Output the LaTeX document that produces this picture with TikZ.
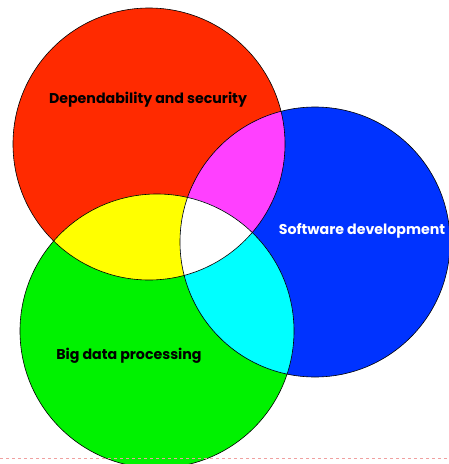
\documentclass[tikz,border=0pt]{standalone}
\usepackage{fontspec}
\setmainfont{Poppins}
\usepackage{tikz}
\definecolor{dsred}{HTML}{FF2A00}
\definecolor{bdgreen}{HTML}{00F200}
\definecolor{sdblue}{HTML}{0033FF}
\definecolor{ovyellow}{HTML}{FFFF00}
\definecolor{ovmagenta}{HTML}{FF40FF}
\definecolor{ovcyan}{HTML}{00FFFF}
\definecolor{pagerule}{HTML}{F0A0A0}
\newcommand{\rds}{136pt}
\newcommand{\rbd}{137pt}
\newcommand{\rsd}{135pt}
\tikzset{label/.style={font=\fontsize{14.2}{16}\selectfont\bfseries}}

\begin{document}
\begin{tikzpicture}[x=1pt,y=-1pt]
\useasboundingbox (0,0) rectangle (449,464);
\coordinate (ds) at (149,144);
\coordinate (bd) at (157,331);
\coordinate (sd) at (315,242);
%the three sets
\fill[dsred]   (ds) circle (\rds);
\fill[bdgreen] (bd) circle (\rbd);
\fill[sdblue]  (sd) circle (\rsd);
%pairwise overlaps
\begin{scope}
\clip (ds) circle (\rds);
\fill[ovyellow]  (bd) circle (\rbd);
\fill[ovmagenta] (sd) circle (\rsd);
\end{scope}
\begin{scope}
\clip (bd) circle (\rbd);
\fill[ovcyan] (sd) circle (\rsd);
\end{scope}
%all three
\begin{scope}
\clip (ds) circle (\rds);
\clip (bd) circle (\rbd);
\fill[white] (sd) circle (\rsd);
\end{scope}
\draw[line width=.6pt] (ds) circle (\rds);
\draw[line width=.6pt] (bd) circle (\rbd);
\draw[line width=.6pt] (sd) circle (\rsd);
\node[label] (dslabel) at (148,100) {Dependability and security};
\node[label,white] (sdlabel) at (362,231) {Software development};
\node[label] (bdlabel) at (129,356) {Big data processing};
%page rule
\coordinate (ruleL) at (0,458);
\coordinate (ruleR) at (449,458);
\draw[pagerule,dashed,line width=.6pt] (ruleL) -- (ruleR);
\end{tikzpicture}
\end{document}
